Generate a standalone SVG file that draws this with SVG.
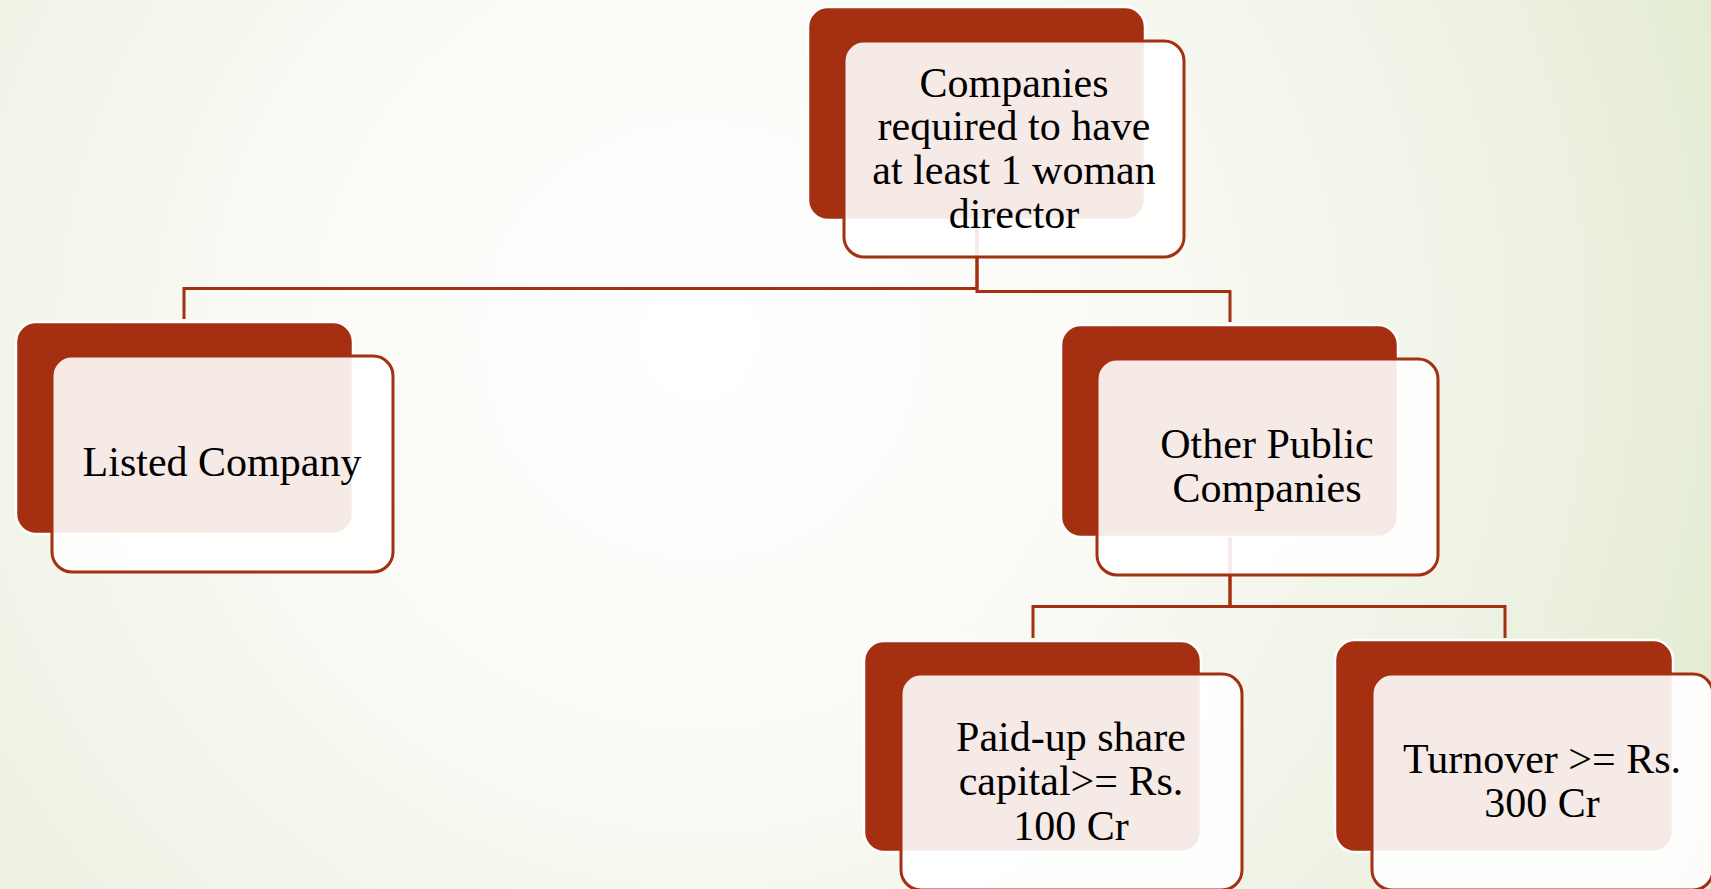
<svg xmlns="http://www.w3.org/2000/svg" width="1711" height="889" viewBox="0 0 1711 889">
  <defs>
    <radialGradient id="bg" gradientUnits="userSpaceOnUse" cx="700" cy="340" r="1150">
      <stop offset="0" stop-color="#FFFFFF"/>
      <stop offset="0.35" stop-color="#FAFBF6"/>
      <stop offset="0.75" stop-color="#EDF1E2"/>
      <stop offset="1" stop-color="#E1EACC"/>
    </radialGradient>
  </defs>
  <style>
    .back { fill: #A52F11; stroke: #FFFFFF; stroke-width: 2.5; }
    .front { fill: #FFFFFF; fill-opacity: 0.9; stroke: #A52F11; stroke-width: 3; }
    .link { fill: none; stroke: #A52F11; stroke-width: 3; }
    .label { font-family: "Liberation Serif", "Times New Roman", serif; font-size: 42px; fill: #000000; text-anchor: middle; }
  </style>

  <rect x="0" y="0" width="1711" height="889" fill="url(#bg)"/>

  <!-- back plates -->
  <rect class="back" x="808" y="7" width="337" height="213" rx="20"/>
  <rect class="back" x="16" y="322" width="337" height="212" rx="20"/>
  <rect class="back" x="1061" y="325" width="337" height="212" rx="20"/>
  <rect class="back" x="864" y="641" width="337" height="211" rx="20"/>
  <rect class="back" x="1335" y="640" width="338" height="212" rx="20"/>

  <!-- connectors -->
  <g id="connectors">
    <path class="link" d="M977,220 V288.5 H184 V319"/>
    <path class="link" d="M977,220 V291.5 H1230 V322"/>
    <path class="link" d="M1230,537 V606.5 H1033 V638"/>
    <path class="link" d="M1230,537 V606.5 H1505 V638"/>
  </g>

  <g id="node-root">
    <rect class="front" x="844" y="41" width="340" height="216" rx="20"/>
    <text class="label" x="1014" y="97">Companies</text>
    <text class="label" x="1014" y="140">required to have</text>
    <text class="label" x="1014" y="184">at least 1 woman</text>
    <text class="label" x="1014" y="228">director</text>
  </g>

  <g id="node-listed">
    <rect class="front" x="52" y="356" width="341" height="216" rx="20"/>
    <text class="label" x="222" y="476">Listed Company</text>
  </g>

  <g id="node-other">
    <rect class="front" x="1097" y="359" width="341" height="216" rx="20"/>
    <text class="label" x="1267" y="458">Other Public</text>
    <text class="label" x="1267" y="502">Companies</text>
  </g>

  <g id="node-paidup">
    <rect class="front" x="901" y="674" width="341" height="216" rx="20"/>
    <text class="label" x="1071" y="751">Paid-up share</text>
    <text class="label" x="1071" y="795">capital&gt;= Rs.</text>
    <text class="label" x="1071" y="840">100 Cr</text>
  </g>

  <g id="node-turnover">
    <rect class="front" x="1372" y="674" width="341" height="216" rx="20"/>
    <text class="label" x="1542" y="773">Turnover &gt;= Rs.</text>
    <text class="label" x="1542" y="817">300 Cr</text>
  </g>
</svg>
